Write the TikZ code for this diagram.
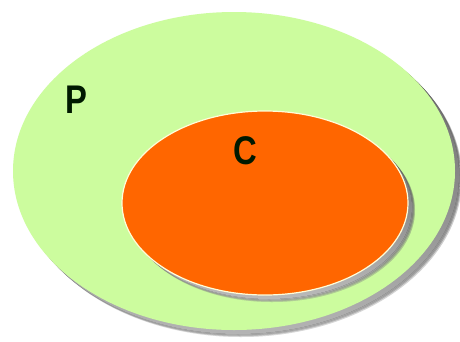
\documentclass[tikz,border=0pt]{standalone}
\usepackage{fontspec}
\setmainfont{Liberation Sans}
\definecolor{pgreen}{RGB}{204,252,158}
\definecolor{corange}{RGB}{255,102,0}
\definecolor{shade}{RGB}{100,112,95}
\begin{document}
\begin{tikzpicture}[x=1pt,y=-1pt,
  lbl/.style={font=\fontsize{40}{40}\selectfont\bfseries, text=black!90!green, inner sep=0pt, xscale=0.82}]
\useasboundingbox (0,0) rectangle (460,341);
\fill[white] (0,0) rectangle (460,341);
% outer shadow
\foreach \o/\a in {7/0.2,6/0.35,5/0.5,4/0.6} {
  \fill[shade, opacity=\a] (234+\o,171+\o) ellipse [x radius=221, y radius=159];
}
\fill[pgreen] (234,171) ellipse [x radius=221, y radius=159];
% inner shadow
\foreach \o/\a in {7/0.25,6/0.4,5/0.55,4/0.65} {
  \fill[shade, opacity=\a] (265+\o,203+\o) ellipse [x radius=143, y radius=92];
}
\fill[corange, draw=white!85!yellow, line width=1.2pt] (265,203) ellipse [x radius=143, y radius=92];
\node[lbl] (P) at (76,100) {P};
\node[lbl] (C) at (245,151) {C};
\end{tikzpicture}
\end{document}
